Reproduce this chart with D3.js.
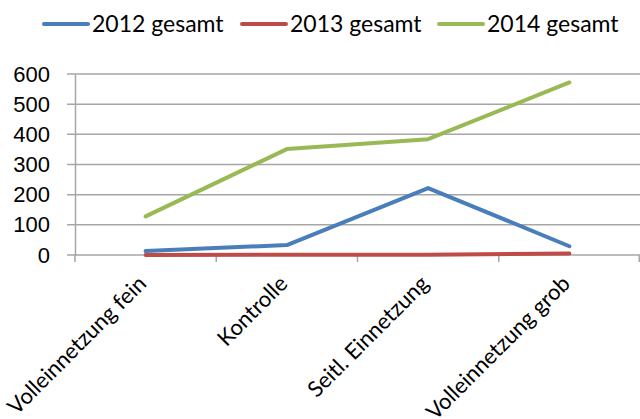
<!DOCTYPE html>
<html lang="de">
  <head>
    <meta charset="UTF-8" />
    <title>Gesamt</title>
    <script src="https://d3js.org/d3.v7.min.js"></script>
    <style>
      body { margin: 0; background: #fff; }
      svg { font-family: Lato, "Liberation Sans", sans-serif; }
    </style>
  </head>
  <body>
    <script>
      const categories = ["Volleinnetzung fein", "Kontrolle", "Seitl. Einnetzung", "Volleinnetzung grob"];
      const seriesNames = ["2012 gesamt", "2013 gesamt", "2014 gesamt"];
      const values2012 = [13, 33, 222, 29];
      const values2013 = [0, 1, 1, 5];
      const values2014 = [128, 351, 384, 572];
      const yTicks = [0, 100, 200, 300, 400, 500, 600];
      const colors = ["#4a7ebb", "#be4b48", "#98b954"];

      const series = [values2012, values2013, values2014];

      const width = 640;
      const height = 419;
      const plotLeft = 75, plotRight = 640, plotTop = 74, plotBottom = 255;

      const svg = d3.select("body").append("svg")
        .attr("width", width)
        .attr("height", height);

      const x = d3.scaleBand().domain(categories).range([plotLeft, plotRight]);
      const y = d3.scaleLinear().domain([0, 600]).range([plotBottom, plotTop]);

      // gridlines
      svg.append("g")
        .selectAll("line")
        .data(yTicks)
        .join("line")
        .attr("x1", plotLeft - 8)
        .attr("x2", plotRight)
        .attr("y1", (d) => y(d))
        .attr("y2", (d) => y(d))
        .attr("stroke", "#a6a6a6")
        .attr("stroke-width", 1.5);

      // y axis
      const yAxis = svg.append("g")
        .attr("transform", `translate(${plotLeft},0)`)
        .call(d3.axisLeft(y).tickValues(yTicks).tickSize(0).tickPadding(25));
      yAxis.select(".domain").attr("stroke", "#a6a6a6").attr("stroke-width", 1.5);
      yAxis.selectAll("text").attr("font-size", 22).attr("fill", "#000");

      // x axis
      const xAxis = svg.append("g")
        .attr("transform", `translate(0,${plotBottom})`);
      xAxis.selectAll("line")
        .data(categories.concat([null]))
        .join("line")
        .attr("x1", (d) => (d === null ? plotRight - 0.75 : x(d)))
        .attr("x2", (d) => (d === null ? plotRight - 0.75 : x(d)))
        .attr("y1", 0)
        .attr("y2", 7)
        .attr("stroke", "#a6a6a6")
        .attr("stroke-width", 1.5);
      xAxis.selectAll("text")
        .data(categories)
        .join("text")
        .attr("transform", (d) => `translate(${x(d) + x.bandwidth() / 2 + 2},${30}) rotate(-45)`)
        .attr("text-anchor", "end")
        .attr("font-size", 22)
        .attr("fill", "#000")
        .text((d) => d);

      // lines
      const line = d3.line()
        .x((d, i) => x(categories[i]) + x.bandwidth() / 2)
        .y((d) => y(d));

      svg.append("g")
        .selectAll("path")
        .data(series)
        .join("path")
        .attr("d", (d) => line(d))
        .attr("fill", "none")
        .attr("stroke", (d, i) => colors[i])
        .attr("stroke-width", 4)
        .attr("stroke-linecap", "round")
        .attr("stroke-linejoin", "round");

      // legend
      const legendX = [44, 242, 439];
      const legend = svg.append("g")
        .selectAll("g")
        .data(seriesNames)
        .join("g")
        .attr("transform", (d, i) => `translate(${legendX[i]},24)`);
      legend.append("line")
        .attr("x1", 0)
        .attr("x2", 44)
        .attr("stroke", (d, i) => colors[i])
        .attr("stroke-width", 4)
        .attr("stroke-linecap", "round");
      legend.append("text")
        .attr("x", 48)
        .attr("dy", "0.35em")
        .attr("font-size", 23)
        .attr("fill", "#000")
        .text((d) => d);
    </script>
  </body>
</html>
